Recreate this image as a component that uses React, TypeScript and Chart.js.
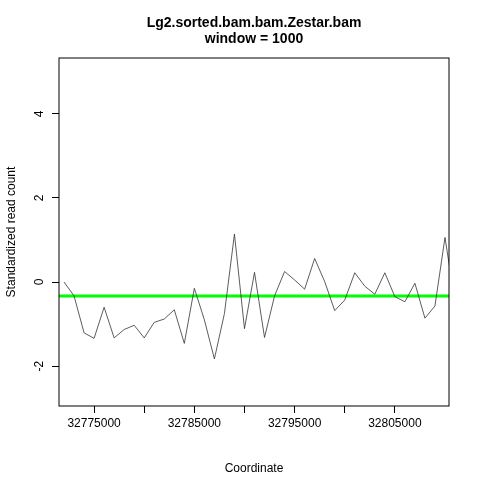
import { useEffect, useRef } from 'react';
import { Chart } from 'chart.js/auto';

const coordStart = 32772000;
const coordStep = 1000;
const readCounts = [
  0.0, -0.33, -1.21, -1.34, -0.6, -1.33, -1.13, -1.03, -1.33, -0.96,
  -0.88, -0.66, -1.46, -0.15, -0.9, -1.83, -0.75, 1.14, -1.11, 0.23,
  -1.32, -0.33, 0.25, 0.05, -0.17, 0.56, 0.01, -0.68, -0.43, 0.22,
  -0.1, -0.29, 0.22, -0.35, -0.47, -0.03, -0.86, -0.57, 1.06, -0.48,
];
const meanLevel = -0.33;
const yTicks = [-2, 0, 2, 4];
const xTicks = [32775000, 32780000, 32785000, 32790000, 32795000, 32800000, 32805000];
const xLabelled = [32775000, 32785000, 32795000, 32805000];
const xMin = 32771500;
const xMax = 32810400;
const yMin = -2.95;
const yMax = 5.33;

const FONT = '"Liberation Sans", Arial, sans-serif';

const frame = {
  id: 'frame',
  afterDraw(chart: Chart) {
    const { ctx, chartArea: a, scales } = chart;
    ctx.save();
    ctx.strokeStyle = '#000';
    ctx.lineWidth = 1;
    ctx.strokeRect(a.left, a.top, a.right - a.left, a.bottom - a.top);
    ctx.fillStyle = '#000';
    ctx.textAlign = 'center';
    ctx.font = `bold 14px ${FONT}`;
    const cx = (a.left + a.right) / 2;
    ctx.fillText('Lg2.sorted.bam.bam.Zestar.bam', cx, 27);
    ctx.fillText('window = 1000', cx, 43);
    // y tick labels, read bottom to top like R
    ctx.font = `12px ${FONT}`;
    ctx.textBaseline = 'middle';
    for (const v of yTicks) {
      const y = scales.y.getPixelForValue(v);
      ctx.save();
      ctx.translate(40, y);
      ctx.rotate(-Math.PI / 2);
      ctx.fillText(String(v), 0, 0);
      ctx.restore();
    }
    ctx.restore();
  },
};

export default function App() {
  const canvasRef = useRef<HTMLCanvasElement>(null);

  useEffect(() => {
    document.body.style.margin = '0';
    if (!canvasRef.current) return;
    const pts = readCounts.map((v, i) => ({ x: coordStart + i * coordStep, y: v }));
    const chart = new Chart(canvasRef.current, {
      type: 'line',
      data: {
        datasets: [
          { data: pts, borderColor: '#333', borderWidth: 0.8, pointRadius: 0, tension: 0 },
          { data: [{ x: xMin, y: meanLevel }, { x: xMax, y: meanLevel }], borderColor: '#00ff00', borderWidth: 3, pointRadius: 0 },
        ],
      },
      options: {
        animation: false,
        responsive: false,
        layout: { padding: { top: 58, right: 31, left: 0, bottom: 0 } },
        plugins: { legend: { display: false }, tooltip: { enabled: false } },
        scales: {
          x: {
            type: 'linear', min: xMin, max: xMax,
            afterBuildTicks: (s: any) => { s.ticks = xTicks.map((v) => ({ value: v })); },
            afterFit: (s: any) => { s.height = 74; },
            grid: { drawOnChartArea: false, tickLength: 7, color: '#000' },
            border: { display: false },
            ticks: {
              color: '#000', font: { family: FONT, size: 12 }, maxRotation: 0, autoSkip: false, padding: 3,
              callback: (v: any) => (xLabelled.includes(Number(v)) ? String(v) : ''),
            },
            title: { display: true, text: 'Coordinate', color: '#000', font: { family: FONT, size: 12 }, padding: { top: 16 } },
          },
          y: {
            min: yMin, max: yMax,
            afterBuildTicks: (s: any) => { s.ticks = yTicks.map((v) => ({ value: v })); },
            afterFit: (s: any) => { s.width = 59; },
            grid: { drawOnChartArea: false, tickLength: 7, color: '#000' },
            border: { display: false },
            ticks: { display: true, color: 'rgba(0,0,0,0)', font: { family: FONT, size: 12 }, minRotation: 90, maxRotation: 90, padding: 4 },
            title: { display: true, text: 'Standardized read count', color: '#000', font: { family: FONT, size: 12 }, padding: { bottom: 4 } },
          },
        },
      },
      plugins: [frame],
    });
    return () => chart.destroy();
  }, []);

  return <canvas ref={canvasRef} width={480} height={480} style={{ display: 'block', background: '#fff' }} />;
}
